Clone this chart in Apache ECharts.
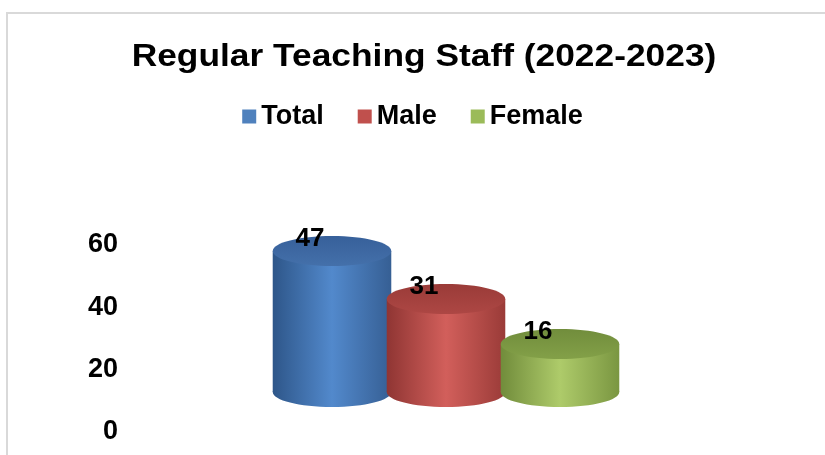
<!DOCTYPE html>
<html>
<head>
<meta charset="utf-8">
<script src="https://cdn.jsdelivr.net/npm/echarts@6/dist/echarts.min.js"></script>
<style>
  html, body { margin: 0; padding: 0; background: #fff; }
  #chart { width: 825px; height: 455px; }
</style>
</head>
<body>
<div id="chart"></div>
<script>
// data
const titleText = "Regular Teaching Staff (2022-2023)";
const categories = ["Total", "Male", "Female"];
const values = [47, 31, 16];
const yTicks = [0, 20, 40, 60];

// body gradient stops (edge, light, edge) and top ellipse colours for each cylinder
const bodyColors = [
  ["#2e5689", "#5289cc", "#365f94"],
  ["#8f3533", "#d25f5b", "#9a3b38"],
  ["#718c3b", "#aecb6a", "#7a9641"],
];
const topColors = [
  ["#37609a", "#4470aa"],
  ["#9a3b38", "#ad4744"],
  ["#718d3c", "#83a048"],
];
const legendColors = ["#4f81bd", "#c0504d", "#9bbb59"];

let myChart = echarts.init(document.getElementById("chart"));

function renderCylinder(params, api) {
  let i = params.seriesIndex;
  let top = api.coord([api.value(0), api.value(1)]);
  let base = api.coord([api.value(0), 0]);
  let w = api.size([1, 0])[0] * 1.04;
  let rx = w / 2;
  let ry = 15;
  let cx = top[0];
  let grad = new echarts.graphic.LinearGradient(0, 0, 1, 0, [
    { offset: 0, color: bodyColors[i][0] },
    { offset: 0.5, color: bodyColors[i][1] },
    { offset: 1, color: bodyColors[i][2] },
  ]);
  let topGrad = new echarts.graphic.LinearGradient(0, 0, 0, 1, [
    { offset: 0, color: topColors[i][0] },
    { offset: 1, color: topColors[i][1] },
  ]);
  return {
    type: "group",
    children: [
      {
        type: "ellipse",
        shape: { cx: cx, cy: base[1], rx: rx, ry: ry },
        style: { fill: grad },
      },
      {
        type: "rect",
        shape: { x: cx - rx, y: top[1], width: w, height: base[1] - top[1] },
        style: { fill: grad },
      },
      {
        type: "ellipse",
        shape: { cx: cx, cy: top[1], rx: rx, ry: ry },
        style: { fill: topGrad },
      },
      {
        type: "text",
        x: cx - 22,
        y: top[1] - 12,
        style: {
          text: String(api.value(1)),
          fill: "#000",
          font: "bold 26px 'Liberation Sans', Arial, sans-serif",
          align: "center",
          verticalAlign: "middle",
        },
      },
    ],
  };
}

myChart.setOption({
  animation: false,
  color: legendColors,
  legend: {
    data: categories,
    top: 98,
    left: "center",
    icon: "rect",
    itemWidth: 14,
    itemHeight: 14,
    itemGap: 34,
    textStyle: {
      fontFamily: "'Liberation Sans', Arial, sans-serif",
      fontWeight: "bold",
      fontSize: 27,
      color: "#000",
    },
  },
  graphic: [
    {
      type: "polyline",
      shape: { points: [[7, 460], [7, 13], [830, 13]] },
      style: { stroke: "#d9d9d9", lineWidth: 2, fill: null },
      silent: true,
    },
    // title, widened a little like the original
    {
      type: "text",
      x: 424,
      y: 57,
      scaleX: 1.14,
      style: {
        text: titleText,
        fill: "#000",
        font: "bold 31px 'Liberation Sans', Arial, sans-serif",
        align: "center",
        verticalAlign: "middle",
      },
    },
  ],
  grid: [
    // axis labels grid
    { left: 126, right: 200, top: 245, bottom: 23 },
    // cylinders grid (floor sits above the 0 label, as in the 3D picture)
    { left: 275, right: 208, top: 212, bottom: 63 },
  ],
  xAxis: [
    { gridIndex: 0, type: "category", data: categories, show: false },
    { gridIndex: 1, type: "category", data: categories, show: false },
  ],
  yAxis: [
    {
      gridIndex: 0,
      type: "value",
      min: yTicks[0],
      max: yTicks[yTicks.length - 1],
      interval: 20,
      axisLine: { show: false },
      axisTick: { show: false },
      splitLine: { show: false },
      axisLabel: {
        margin: 8,
        color: "#000",
        fontFamily: "'Liberation Sans', Arial, sans-serif",
        fontWeight: "bold",
        fontSize: 27,
      },
    },
    { gridIndex: 1, type: "value", min: 0, max: 60, show: false },
  ],
  series: categories.map((name, i) => ({
    name: name,
    type: "custom",
    xAxisIndex: 1,
    yAxisIndex: 1,
    data: [[i, values[i]]],
    renderItem: renderCylinder,
  })),
});
</script>
</body>
</html>
